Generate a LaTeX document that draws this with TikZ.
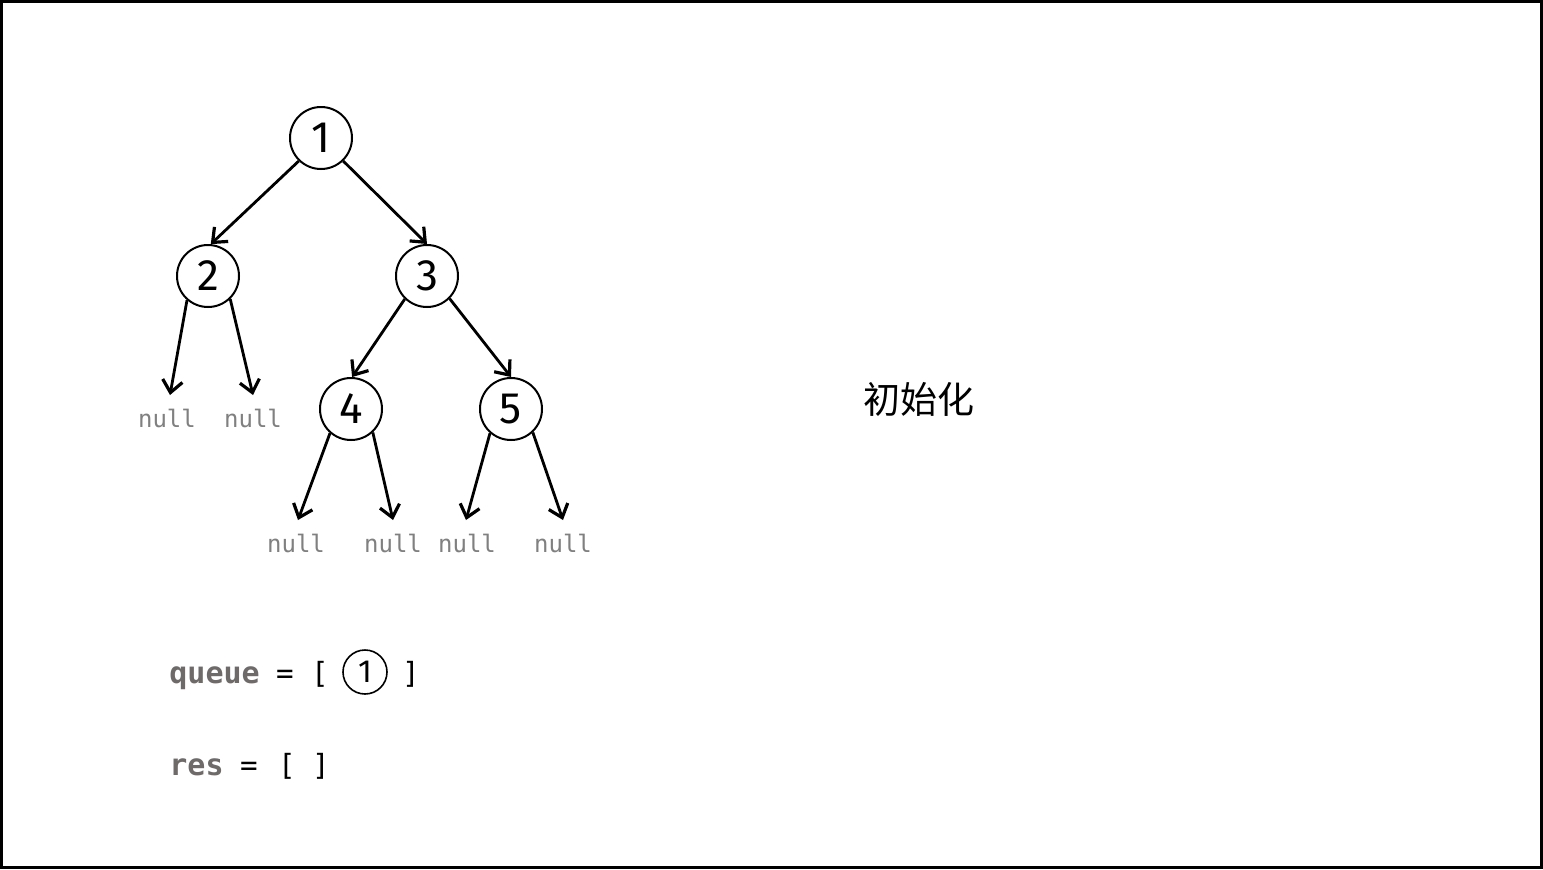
\documentclass[tikz,border=0pt]{standalone}
\usepackage{fontspec}
\setmainfont{Fira Sans}
\newfontfamily\monof{DejaVu Sans Mono}
\newfontfamily\cjk{Noto Sans CJK SC}
\usetikzlibrary{arrows.meta}
\definecolor{nullgray}{RGB}{128,128,128}
\definecolor{vargray}{RGB}{110,106,106}
\tikzset{
  treenode/.style={circle,draw=black,line width=1pt,minimum size=31pt,inner sep=0pt,font=\fontsize{22}{22}\selectfont},
  edge/.style={line width=1.4pt,-{Straight Barb[length=6pt,width=10pt,line width=1.6pt]}},
  nulltxt/.style={text=nullgray,font=\monof\fontsize{12}{12}\selectfont,inner sep=0pt},
  vartxt/.style={text=vargray,font=\monof\bfseries\fontsize{15}{15}\selectfont,inner sep=0pt,anchor=base west},
  symtxt/.style={font=\monof\fontsize{14.6}{15}\selectfont,inner sep=0pt,anchor=base},
  qnode/.style={circle,draw=black,line width=0.8pt,minimum size=22pt,inner sep=0pt,font=\fontsize{16}{16}\selectfont}
}
\begin{document}
\begin{tikzpicture}[x=0.5pt,y=-0.5pt]
\useasboundingbox (0,0) rectangle (1543,869);
\draw[line width=1.5pt] (1.5,1.5) rectangle (1541.5,867.5);
% tree nodes
\node[treenode] (n1) at (321,138) {1};
\node[treenode] (n2) at (208,276) {2};
\node[treenode] (n3) at (427,276) {3};
\node[treenode] (n4) at (351,409) {4};
\node[treenode] (n5) at (511,409) {5};
% arrow tips for nulls
\coordinate (t2l) at (170,395);
\coordinate (t2r) at (253,395);
\coordinate (t4l) at (298,520);
\coordinate (t4r) at (393,520);
\coordinate (t5l) at (466,520);
\coordinate (t5r) at (563,520);
% null labels
\node[nulltxt] (l2l) at (167,418) {null};
\node[nulltxt] (l2r) at (253,418) {null};
\node[nulltxt] (l4l) at (296,543) {null};
\node[nulltxt] (l4r) at (393,543) {null};
\node[nulltxt] (l5l) at (467,543) {null};
\node[nulltxt] (l5r) at (563,543) {null};
% edges
\draw[edge] (n1.226) -- (n2.85);
\draw[edge] (n1.314) -- (n3.90);
\draw[edge] (n3.226) -- (n4.88);
\draw[edge] (n3.315) -- (n5.90);
\draw[edge] (n2.229) -- (t2l);
\draw[edge] (n2.314) -- (t2r);
\draw[edge] (n4.229) -- (t4l);
\draw[edge] (n4.313) -- (t4r);
\draw[edge] (n5.229) -- (t5l);
\draw[edge] (n5.313) -- (t5r);
% caption
\node[font=\cjk\fontsize{18.5}{19}\selectfont,inner sep=0pt] (cap) at (919,399) {初始化};
% queue line
\node[vartxt] (qv) at (169,683) {queue};
\node[symtxt] (qe) at (285,683) {=};
\node[symtxt] (qb1) at (320,683) {[};
\node[qnode] (q1) at (365,672) {1};
\node[symtxt] (qb2) at (411,683) {]};
% res line
\node[vartxt] (rv) at (169,775) {res};
\node[symtxt] (re) at (249,775) {=};
\node[symtxt] (rb1) at (287,775) {[};
\node[symtxt] (rb2) at (321,775) {]};
\end{tikzpicture}
\end{document}
